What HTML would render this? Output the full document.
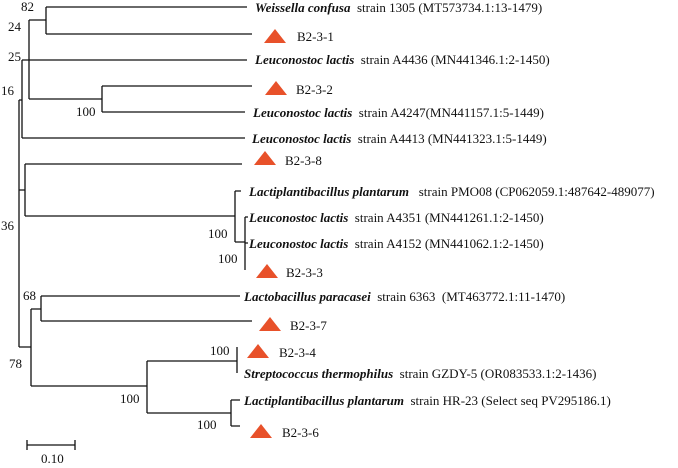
<!DOCTYPE html>
<html><head><meta charset="utf-8"><style>
html,body{margin:0;padding:0;background:#fff;}
svg{display:block;}
text{font-family:"Liberation Serif",serif;font-size:13px;fill:#111;white-space:pre;}
.i{font-style:italic;font-weight:bold;}
</style></head><body>
<svg width="678" height="468" viewBox="0 0 678 468" xmlns="http://www.w3.org/2000/svg" xml:space="preserve">
<g stroke="#111" stroke-width="1.3" fill="none">
<path d="M46 7V34M46 7H247M46 34H252"/>
<path d="M29 20V99M29 20H46M29 60H247M29 99H102"/>
<path d="M102 86V112M102 86H252M102 112H245"/>
<path d="M22 60V138M22 60H29M22 138H245"/>
<path d="M19 100V347M19 100H22"/>
<path d="M25 164V216M19 190H25M25 164H242M25 216H235"/>
<path d="M235 191V242M235 191H241M235 242H245"/>
<path d="M245 217V270M245 217H248M245 243H248"/>
<path d="M19 347H31M31 309V386M31 309H41M41 296V321M41 296H240M41 321H252"/>
<path d="M31 386H147M147 361V413M147 361H237M237 347V373"/>
<path d="M147 413H231M231 400V426M231 400H240M231 426H240"/>
<path d="M27 445H75M27 440V450M75 440V450"/>
</g>
<g fill="#e8512a">
<polygon points="264,43 275,29 286,43"/>
<polygon points="265,95 276,81 287,95"/>
<polygon points="254,165 265,151 276,165"/>
<polygon points="256,278 267,264 278,278"/>
<polygon points="259,331 270,317 281,331"/>
<polygon points="247,358 258,344 269,358"/>
<polygon points="250,438 261,424 272,438"/>
</g>
<text x="255" y="12"><tspan class="i">Weissella confusa</tspan>  strain 1305 (MT573734.1:13-1479)</text>
<text x="297" y="41">B2-3-1</text>
<text x="255" y="64"><tspan class="i">Leuconostoc lactis</tspan>  strain A4436 (MN441346.1:2-1450)</text>
<text x="296" y="94">B2-3-2</text>
<text x="253" y="117"><tspan class="i">Leuconostoc lactis</tspan>  strain A4247(MN441157.1:5-1449)</text>
<text x="252" y="143"><tspan class="i">Leuconostoc lactis</tspan>  strain A4413 (MN441323.1:5-1449)</text>
<text x="285" y="165">B2-3-8</text>
<text x="249" y="196"><tspan class="i">Lactiplantibacillus plantarum</tspan>   strain PMO08 (CP062059.1:487642-489077)</text>
<text x="249" y="222"><tspan class="i">Leuconostoc lactis</tspan>  strain A4351 (MN441261.1:2-1450)</text>
<text x="249" y="248"><tspan class="i">Leuconostoc lactis</tspan>  strain A4152 (MN441062.1:2-1450)</text>
<text x="286" y="277">B2-3-3</text>
<text x="244" y="301"><tspan class="i">Lactobacillus paracasei</tspan>  strain 6363  (MT463772.1:11-1470)</text>
<text x="290" y="330">B2-3-7</text>
<text x="279" y="357">B2-3-4</text>
<text x="244" y="378"><tspan class="i">Streptococcus thermophilus</tspan>  strain GZDY-5 (OR083533.1:2-1436)</text>
<text x="244" y="405"><tspan class="i">Lactiplantibacillus plantarum</tspan>  strain HR-23 (Select seq PV295186.1)</text>
<text x="282" y="437">B2-3-6</text>
<text x="21" y="11">82</text>
<text x="8" y="31">24</text>
<text x="8" y="61">25</text>
<text x="1" y="95">16</text>
<text x="1" y="230">36</text>
<text x="76" y="116">100</text>
<text x="208" y="238">100</text>
<text x="218" y="263">100</text>
<text x="23" y="300">68</text>
<text x="9" y="368">78</text>
<text x="210" y="355">100</text>
<text x="120" y="403">100</text>
<text x="197" y="429">100</text>
<text x="41" y="463">0.10</text>
</svg>
</body></html>
